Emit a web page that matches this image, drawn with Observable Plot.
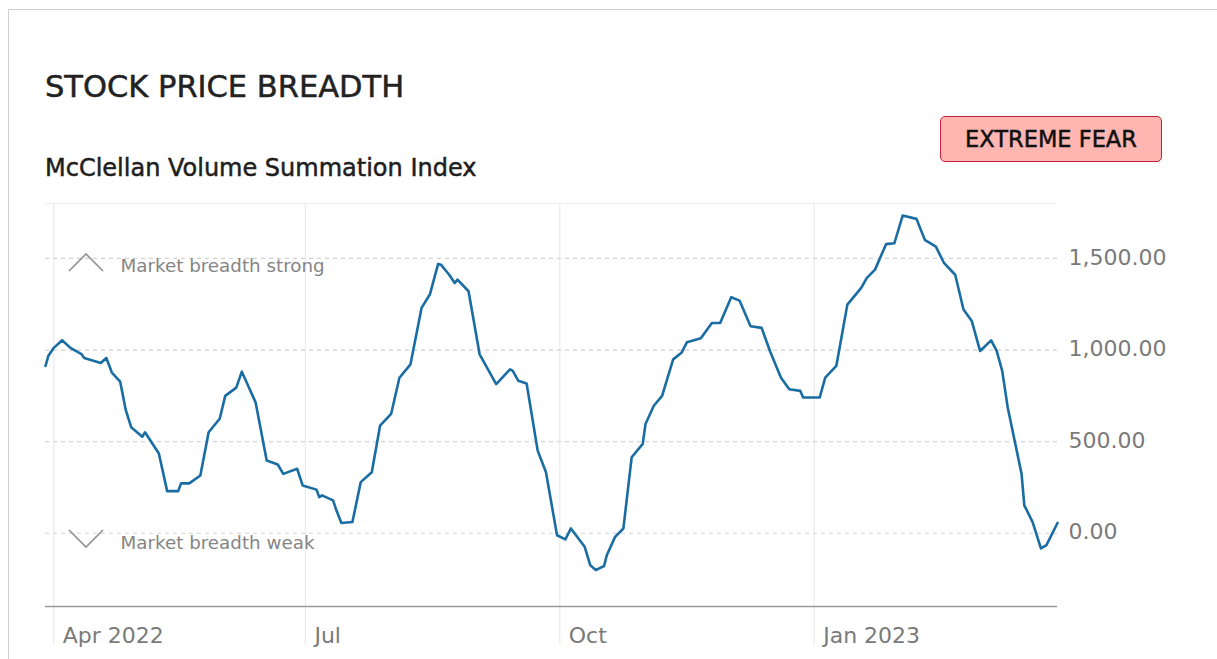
<!DOCTYPE html>
<html>
<head>
<meta charset="utf-8">
<script src="https://cdn.jsdelivr.net/npm/d3@7"></script>
<script src="https://cdn.jsdelivr.net/npm/@observablehq/plot@0.6"></script>
<style>
  html, body { margin: 0; padding: 0; background: #fff; width: 1217px; height: 659px; overflow: hidden; }
  #page { position: relative; width: 1217px; height: 659px; font-family: "DejaVu Sans", sans-serif; }
  #card { position: absolute; left: 8px; top: 9px; width: 1400px; height: 800px; border: 1px solid #d0d0d0; box-sizing: border-box; }
  #title { position: absolute; left: 45px; top: 72px; font-size: 30.5px; line-height: 30px; color: #222; white-space: nowrap; -webkit-text-stroke: 0.5px #222; }
  #subtitle { position: absolute; left: 45px; top: 156px; font-size: 24px; line-height: 24px; color: #1e1e1e; white-space: nowrap; -webkit-text-stroke: 0.5px #1e1e1e; }
  #badge { position: absolute; left: 940px; top: 116px; width: 222px; height: 46px; box-sizing: border-box;
           background: #ffb6b1; border: 1.5px solid #c4203c; border-radius: 5px;
           display: flex; align-items: center; justify-content: center;
           font-size: 22.5px; color: #111; white-space: nowrap; -webkit-text-stroke: 0.5px #111; }
  #chart { position: absolute; left: 0; top: 190px; }
  #chev { position: absolute; left: 0; top: 0; pointer-events: none; }
</style>
</head>
<body>
<div id="page">
  <div id="card"></div>
  <div id="title">STOCK PRICE BREADTH</div>
  <div id="subtitle">McClellan Volume Summation Index</div>
  <div id="badge">EXTREME FEAR</div>
  <div id="chart"></div>
  <svg id="chev" width="1217" height="659">
    <polyline points="69,271 86,254 103,271" fill="none" stroke="#939393" stroke-width="1.7"/>
    <polyline points="69,530 86,547 103,530" fill="none" stroke="#939393" stroke-width="1.7"/>
  </svg>
</div>
<script>
// ---- data ----
const dates = [
  "2022-03-29","2022-03-30","2022-04-01","2022-04-04","2022-04-07","2022-04-11","2022-04-12","2022-04-18",
  "2022-04-20","2022-04-22","2022-04-25","2022-04-27","2022-04-29","2022-05-03","2022-05-04","2022-05-09",
  "2022-05-12","2022-05-16","2022-05-17","2022-05-20","2022-05-24","2022-05-27","2022-05-31","2022-06-02",
  "2022-06-06","2022-06-08","2022-06-10","2022-06-13","2022-06-17","2022-06-21","2022-06-23","2022-06-28",
  "2022-06-30","2022-07-05","2022-07-06","2022-07-07","2022-07-11","2022-07-12","2022-07-14","2022-07-18",
  "2022-07-21","2022-07-25","2022-07-28","2022-08-01","2022-08-04","2022-08-08","2022-08-12","2022-08-15",
  "2022-08-18","2022-08-19","2022-08-22","2022-08-24","2022-08-25","2022-08-29","2022-09-02","2022-09-08",
  "2022-09-13","2022-09-14","2022-09-16","2022-09-19","2022-09-23","2022-09-26","2022-09-30","2022-10-03",
  "2022-10-05","2022-10-10","2022-10-12","2022-10-14","2022-10-17","2022-10-18","2022-10-21","2022-10-24",
  "2022-10-27","2022-10-31","2022-11-01","2022-11-04","2022-11-07","2022-11-11","2022-11-14","2022-11-16",
  "2022-11-21","2022-11-25","2022-11-28","2022-12-02","2022-12-05","2022-12-09","2022-12-13","2022-12-16",
  "2022-12-20","2022-12-23","2022-12-27","2022-12-28","2023-01-03","2023-01-05","2023-01-09","2023-01-13",
  "2023-01-18","2023-01-20","2023-01-23","2023-01-27","2023-01-30","2023-02-02","2023-02-07","2023-02-10",
  "2023-02-14","2023-02-17","2023-02-21","2023-02-24","2023-02-27","2023-03-02","2023-03-06","2023-03-08",
  "2023-03-10","2023-03-12","2023-03-17","2023-03-18","2023-03-21","2023-03-24","2023-03-26","2023-03-30"
];
const values = [
  913, 967, 1012, 1053, 1012, 978, 957, 929,
  957, 877, 828, 674, 578, 527, 551, 435,
  230, 230, 272, 272, 315, 551, 625, 750,
  795, 882, 815, 714, 397, 375, 324, 352,
  261, 238, 197, 207, 179, 134, 56, 61,
  279, 333, 587, 651, 849, 922, 1230, 1303,
  1470, 1466, 1411, 1366, 1384, 1321, 977, 814,
  895, 886, 832, 817, 451, 333, -11, -34,
  26, -74, -174, -201, -179, -120, -20, 26,
  415, 488, 596, 696, 750, 949, 985, 1043,
  1064, 1148, 1148, 1288, 1270, 1130, 1121, 995,
  849, 786, 777, 741, 741, 849, 913, 1248,
  1339, 1393, 1439, 1578, 1583, 1734, 1716, 1602,
  1565, 1474, 1411, 1221, 1158, 995, 1053, 995,
  886, 686, 324, 152, 61, -83, -65, 56
];
const xTickDates = ["2022-04-01","2022-07-01","2022-10-01","2023-01-01"];
const xTickLabels = ["Apr 2022","Jul","Oct","Jan 2023"];
const yTicks = [0, 500, 1000, 1500];
const yDomain = [-400, 1800];
const zoneLabels = ["Market breadth strong", "Market breadth weak"];

// ---- build ----
const parse = d3.utcParse("%Y-%m-%d");
const series = dates.map((d, i) => ({date: parse(d), value: values[i]}));
const xTicks = xTickDates.map(parse);
const labelFor = new Map(xTicks.map((d, i) => [+d, xTickLabels[i]]));

const chart = Plot.plot({
  width: 1217,
  height: 469,
  marginLeft: 45,
  marginRight: 160,
  marginTop: 13,
  marginBottom: 53,
  style: {fontFamily: "DejaVu Sans, sans-serif", fontSize: "22px", background: "transparent", overflow: "visible"},
  x: {type: "utc"},
  y: {domain: yDomain},
  marks: [
    Plot.ruleX(xTicks, {stroke: "#ebebeb", strokeWidth: 1.2, insetBottom: -39}),
    Plot.ruleY([yDomain[1]], {stroke: "#ebebeb", strokeWidth: 1.2}),
    Plot.gridY({ticks: yTicks, stroke: "#d2d2d2", strokeOpacity: 1, strokeDasharray: "4,4", strokeWidth: 1.2}),
    Plot.ruleY([yDomain[0]], {stroke: "#9a9a9a", strokeWidth: 1.6}),
    Plot.axisX({ticks: xTicks, tickFormat: d => labelFor.get(+d), tickSize: 0, tickPadding: 3,
                textAnchor: "start", dx: 9, dy: 18, fill: "#7a7a7a", fontSize: 22, label: null}),
    Plot.axisY({anchor: "right", ticks: yTicks, tickFormat: d3.format(",.2f"), tickSize: 0, tickPadding: 11,
                dy: -1, fill: "#7a7a7a", fontSize: 22, label: null}),
    Plot.text([zoneLabels[0]], {frameAnchor: "top-left", text: d => d, dx: 75, dy: 63,
                textAnchor: "start", lineAnchor: "middle", fill: "#858585", fontSize: 18.3}),
    Plot.text([zoneLabels[1]], {frameAnchor: "bottom-left", text: d => d, dx: 75, dy: -63,
                textAnchor: "start", lineAnchor: "middle", fill: "#858585", fontSize: 18.3}),
    Plot.line(series, {x: "date", y: "value", stroke: "#1a6da3", strokeWidth: 2.6, strokeLinejoin: "round"})
  ]
});
document.getElementById("chart").appendChild(chart);
</script>
</body>
</html>
